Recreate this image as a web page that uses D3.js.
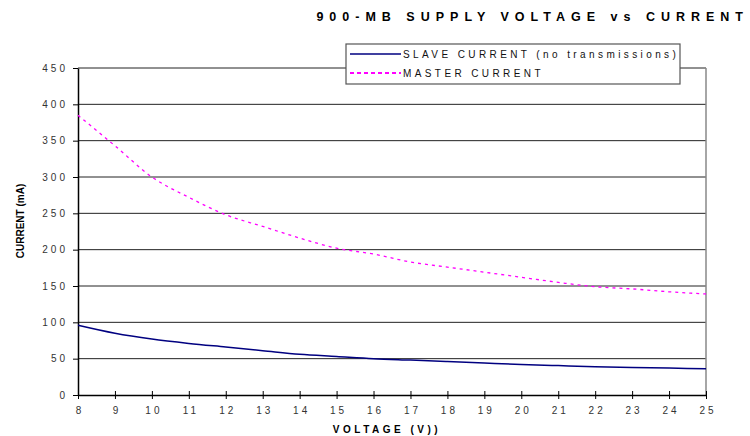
<!DOCTYPE html>
<html>
<head>
<meta charset="utf-8">
<script src="https://cdn.jsdelivr.net/npm/d3@7"></script>
<style>
  body { margin: 0; background: #fff; }
  text { font-family: Arial, "Liberation Sans", sans-serif; }
</style>
</head>
<body>
<div id="chart"></div>
<script>
// data
var voltage = [8, 9, 10, 11, 12, 13, 14, 15, 16, 17, 18, 19, 20, 21, 22, 23, 24, 25];
var slaveCurrent = [96, 85, 77, 71, 66, 61, 56, 53, 50, 48, 46, 44, 42, 40.5, 39, 38, 37, 36];
var masterCurrent = [385, 343, 300, 272, 248, 232, 216, 202, 194, 183, 176, 169, 162, 155, 149, 146, 142, 139];
var yTicks = [0, 50, 100, 150, 200, 250, 300, 350, 400, 450];

var W = 750, H = 436;
var margin = {top: 68, right: 44, bottom: 41, left: 78};
var width = W - margin.left - margin.right,
    height = H - margin.top - margin.bottom;

var svg = d3.select("#chart").append("svg")
    .attr("width", W).attr("height", H);

var g = svg.append("g")
    .attr("transform", "translate(" + margin.left + "," + margin.top + ")");

var x = d3.scaleLinear().domain([8, 25]).range([0, width]);
var y = d3.scaleLinear().domain([0, 450]).range([height, 0]);

// gridlines
g.selectAll(".grid").data(yTicks.slice(1)).enter().append("line")
    .attr("x1", 0).attr("x2", width)
    .attr("y1", function(d) { return y(d); })
    .attr("y2", function(d) { return y(d); })
    .attr("stroke", "#222").attr("stroke-width", 1);

// right border
g.append("line")
    .attr("x1", width).attr("x2", width)
    .attr("y1", 0).attr("y2", height)
    .attr("stroke", "#888").attr("stroke-width", 1.5);

// y axis
var yAxis = g.append("g")
    .call(d3.axisLeft(y).tickValues(yTicks).tickSize(5).tickSizeOuter(0));
yAxis.select(".domain").attr("stroke", "#000").attr("stroke-width", 1.5);
yAxis.selectAll(".tick line").attr("stroke", "#000");
yAxis.selectAll(".tick text")
    .attr("x", -10)
    .attr("fill", "#333")
    .style("font-size", "10px")
    .style("letter-spacing", "3px");

// x axis
var xAxis = g.append("g")
    .attr("transform", "translate(0," + height + ")")
    .call(d3.axisBottom(x).tickValues(voltage).tickSize(0).tickSizeOuter(0).tickFormat(d3.format("d")));
xAxis.select(".domain").attr("stroke", "#000").attr("stroke-width", 1.5);
xAxis.selectAll(".tick line")
    .attr("y1", -4).attr("y2", 4).attr("stroke", "#000");
xAxis.selectAll(".tick text")
    .attr("y", 12)
    .attr("fill", "#333")
    .style("font-size", "10px")
    .style("letter-spacing", "3px")
    .attr("dx", "1.5px");

// lines
var line = d3.line()
    .x(function(d, i) { return x(voltage[i]); })
    .y(function(d) { return y(d); })
    .curve(d3.curveMonotoneX);

g.append("path")
    .datum(slaveCurrent)
    .attr("d", line)
    .attr("fill", "none")
    .attr("stroke", "#000080")
    .attr("stroke-width", 1.5);

g.append("path")
    .datum(masterCurrent)
    .attr("d", line)
    .attr("fill", "none")
    .attr("stroke", "#ff00ff")
    .attr("stroke-width", 1.3)
    .attr("stroke-dasharray", "3,4");

// title
svg.append("text")
    .attr("x", 749).attr("y", 21)
    .attr("text-anchor", "end")
    .style("font-size", "12.5px")
    .style("font-weight", "bold")
    .style("letter-spacing", "6px")
    .text("900-MB SUPPLY VOLTAGE vs CURRENT");

// axis titles
svg.append("text")
    .attr("x", 387).attr("y", 433)
    .attr("text-anchor", "middle")
    .style("font-size", "10px")
    .style("font-weight", "bold")
    .style("letter-spacing", "3.5px")
    .text("VOLTAGE (V))");

svg.append("text")
    .attr("transform", "translate(24,221) rotate(-90)")
    .attr("text-anchor", "middle")
    .style("font-size", "10px")
    .style("font-weight", "bold")
    .text("CURRENT (mA)");

// legend
var legend = svg.append("g").attr("transform", "translate(346,44)");
legend.append("rect")
    .attr("width", 334).attr("height", 40)
    .attr("fill", "#fff")
    .attr("stroke", "#555").attr("stroke-width", 1.2);

var legendItems = [
  {name: "SLAVE CURRENT (no transmissions)", color: "#000080", dash: null, w: 1.5},
  {name: "MASTER CURRENT", color: "#ff00ff", dash: "4,3", w: 2}
];
legendItems.forEach(function(item, i) {
  var yy = 10 + i * 19;
  legend.append("line")
      .attr("x1", 4).attr("x2", 55)
      .attr("y1", yy).attr("y2", yy)
      .attr("stroke", item.color)
      .attr("stroke-width", item.w)
      .attr("stroke-dasharray", item.dash);
  legend.append("text")
      .attr("x", 57).attr("y", yy + 4)
      .style("font-size", "10px")
      .style("letter-spacing", "3.4px")
      .attr("fill", "#111")
      .text(item.name);
});
</script>
</body>
</html>
